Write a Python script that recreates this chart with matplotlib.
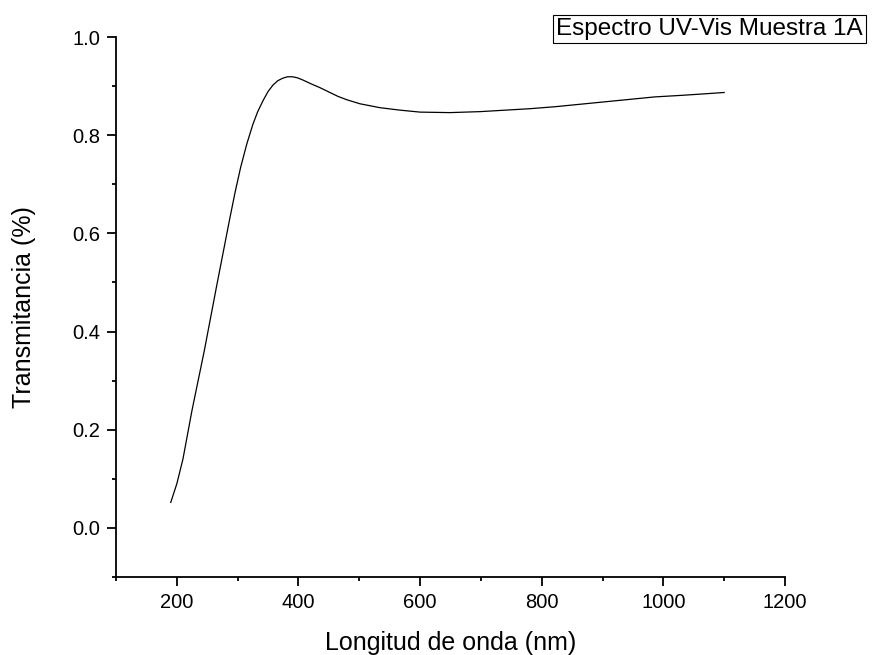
import matplotlib.pyplot as plt
from matplotlib.ticker import MultipleLocator

plt.rcParams['font.family'] = ['Liberation Sans', 'DejaVu Sans']

# UV-Vis spectrum, sample 1A
wavelength = [190, 200, 210, 225, 245, 265, 287, 296, 305, 315, 325, 333, 342, 350,
              358, 366, 374, 382, 390, 398, 408, 420, 435, 450, 465, 480, 501, 534,
              567, 600, 649, 699, 740, 781, 822, 863, 904, 945, 986, 1028, 1065, 1100]
transmittance = [0.052, 0.09, 0.14, 0.24, 0.36, 0.49, 0.63, 0.685, 0.735, 0.782, 0.822,
                 0.848, 0.871, 0.889, 0.902, 0.911, 0.916, 0.919, 0.919, 0.917, 0.912,
                 0.905, 0.897, 0.888, 0.879, 0.872, 0.864, 0.856, 0.851, 0.847, 0.846,
                 0.848, 0.851, 0.854, 0.858, 0.863, 0.868, 0.873, 0.878, 0.881, 0.884,
                 0.887]

fig = plt.figure(figsize=(8.77, 6.55), dpi=100)
ax = fig.add_axes([0.1323, 0.1191, 0.7628, 0.8244])

ax.plot(wavelength, transmittance, color='black', linewidth=0.9)

ax.set_xlim(100, 1200)
ax.set_ylim(-0.1, 1.0)
ax.xaxis.set_minor_locator(MultipleLocator(100))
ax.yaxis.set_minor_locator(MultipleLocator(0.1))
ax.set_xticks([200, 400, 600, 800, 1000, 1200])
ax.set_yticks([0.0, 0.2, 0.4, 0.6, 0.8, 1.0])
ax.yaxis.set_major_formatter(lambda v, p: f'{v:.1f}')

for side in ['top', 'right']:
    ax.spines[side].set_visible(False)
for side in ['left', 'bottom']:
    ax.spines[side].set_linewidth(1.3)

ax.tick_params(which='major', direction='out', length=6.5, width=1.3, labelsize=14.5, pad=5)
ax.tick_params(which='minor', direction='out', length=3, width=1.3)

ax.set_xlabel('Longitud de onda (nm)', fontsize=18, labelpad=14)
ax.set_ylabel('Transmitancia (%)', fontsize=18, labelpad=26)

fig.text(0.984, 1 - 18 / 655, 'Espectro UV-Vis Muestra 1A', fontsize=17.5,
         ha='right', va='top',
         bbox=dict(boxstyle='square,pad=0.12', facecolor='white', edgecolor='black', linewidth=0.8))

fig.savefig('out.png', dpi=100)
